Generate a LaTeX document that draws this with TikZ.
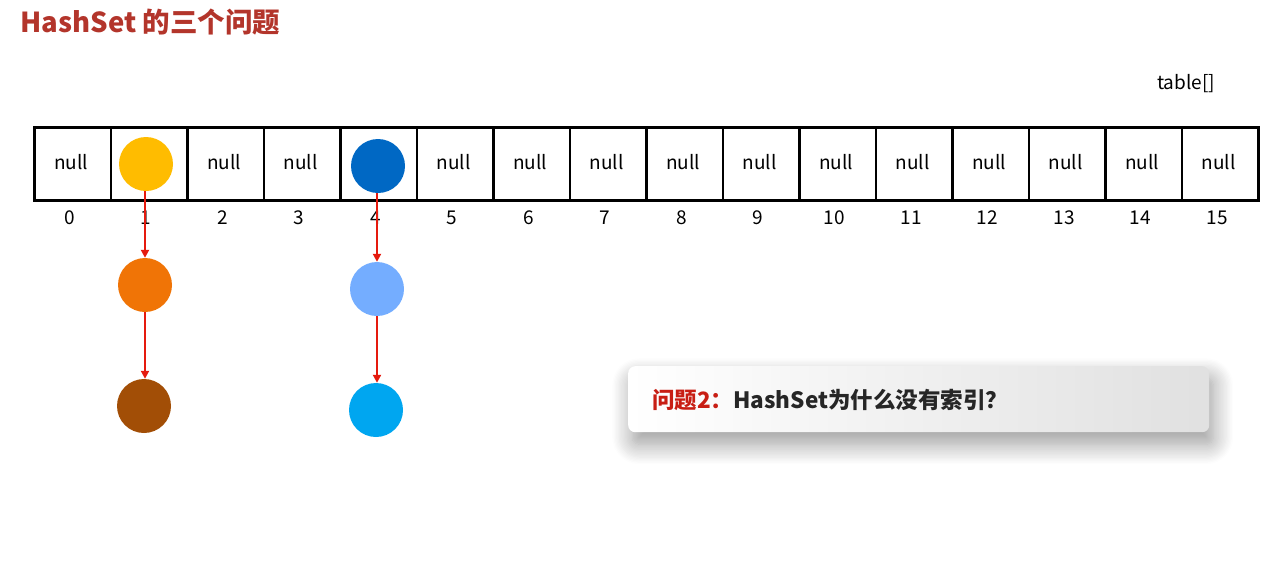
\documentclass[tikz,border=0pt]{standalone}
\usepackage{fontspec}
\setmainfont{Noto Sans CJK SC}
\usetikzlibrary{arrows.meta,shadows.blur}
\definecolor{titlered}{HTML}{B3352B}
\definecolor{qred}{HTML}{C81E14}
\definecolor{arrred}{HTML}{E51A0E}
\definecolor{cyellow}{HTML}{FFBC00}
\definecolor{cblue}{HTML}{0068C4}
\definecolor{corange}{HTML}{F07406}
\definecolor{cbrown}{HTML}{A24E06}
\definecolor{clblue}{HTML}{74ADFF}
\definecolor{ccyan}{HTML}{00A6F0}
\tikzset{
  cell/.style={draw=black, line width=2.8pt, anchor=north west, inner sep=0pt,
    minimum width=76.5pt, minimum height=73pt},
  celltext/.style={font=\fontsize{19}{21}\selectfont},
  idx/.style={font=\fontsize{19}{21}\selectfont},
  ball/.style={circle, inner sep=0pt, minimum size=54pt},
  arr/.style={draw=arrred, line width=2.3pt, -{Triangle[length=8pt,width=8pt]}},
}
\begin{document}
\begin{tikzpicture}[x=1pt,y=-1pt]
\useasboundingbox (0,0) rectangle (1280,563);
\node[anchor=west, text=titlered, font=\bfseries\fontsize{27.5}{30}\selectfont] (title) at (17,22) {HashSet 的三个问题};
\node[celltext] (tbl) at (1186,84) {table[]};
\foreach \i in {0,...,15} {
  \node[cell] (cell\i) at ({33+76.5*\i},126) {};
  \node[idx] (idx\i) at ({69.5+76.5*\i},218) {\i};
}
\foreach \i in {0,2,3,5,6,7,8,9,10,11,12,13,14,15} {
  \node[celltext] (null\i) at ({71.25+76.5*\i},162) {null};
}
\node[ball, fill=cyellow] (a1) at (146,164) {};
\node[ball, fill=corange] (a2) at (145,285) {};
\node[ball, fill=cbrown] (a3) at (144,406) {};
\node[ball, fill=cblue] (b1) at (378,166) {};
\node[ball, fill=clblue] (b2) at (377,289) {};
\node[ball, fill=ccyan] (b3) at (376,410) {};
\draw[arr] (a2.north |- a1.south) -- (a2.north);
\draw[arr] (a2.south) -- (a2.south |- a3.north);
\draw[arr] (b2.north |- b1.south) -- (b2.north);
\draw[arr] (b2.south) -- (b2.south |- b3.north);
\node[anchor=north west, inner sep=0pt, minimum width=581pt, minimum height=66pt,
  rounded corners=7pt, left color=white, right color=black!12,
  blur shadow={shadow xshift=4pt, shadow yshift=-12pt, shadow blur steps=16, shadow blur radius=20pt, shadow opacity=40}] (box) at (628,366) {};
\node[anchor=west, font=\bfseries\fontsize{22.5}{25}\selectfont, inner sep=0pt] (q) at (652,400)
  {\textcolor{qred}{问题2：}\textcolor{black!85}{HashSet为什么没有索引？}};
\end{tikzpicture}
\end{document}
